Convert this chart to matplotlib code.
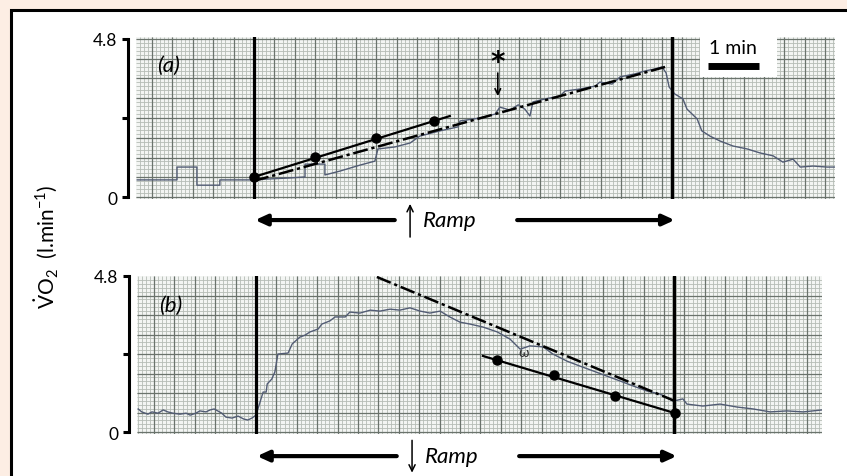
import matplotlib
matplotlib.use("Agg")
import matplotlib.pyplot as plt
import numpy as np
from matplotlib.patches import Rectangle

plt.rcParams["font.family"] = ["Lato", "DejaVu Sans"]
plt.rcParams["mathtext.fontset"] = "custom"
plt.rcParams["mathtext.rm"] = "Lato"

W, H = 847, 477

# ---- panel (a): ramp up -------------------------------------------------
# time in min (0 = ramp start), VO2 in l/min
t_a = [-2.29, -1.51, -1.51, -1.12, -1.12, -0.67, -0.67, 0.0,
       0.31, 0.71, 1.00, 1.00, 1.39, 1.39, 1.69, 2.08, 2.37, 2.43, 2.76,
       3.06, 3.25, 3.65, 4.00, 4.04, 4.43, 4.73, 4.82, 5.02, 5.18, 5.31,
       5.41, 5.47, 5.71, 6.00, 6.10, 6.39, 6.69, 6.78, 7.02, 7.18, 7.47,
       7.67, 7.86, 8.00, 8.08, 8.14, 8.20,
       8.25, 8.41, 8.49, 8.55, 8.69, 8.78, 8.94, 9.14, 9.39, 9.67, 9.92,
       10.18, 10.37, 10.57, 10.71, 10.96, 11.24, 11.39]
v_a = [0.52, 0.52, 0.91, 0.91, 0.36, 0.36, 0.52, 0.52,
       0.55, 0.58, 0.61, 1.00, 1.00, 0.67, 0.79, 0.97, 1.09, 1.46, 1.52,
       1.64, 1.85, 2.01, 2.13, 2.31, 2.40, 2.52, 2.73, 2.64, 2.80, 2.67,
       2.46, 2.89, 2.98, 3.07, 3.22, 3.28, 3.37, 3.49, 3.43, 3.65, 3.74,
       3.83, 3.89, 3.95, 3.77, 3.34, 3.22,
       3.13, 2.98, 2.67, 2.58, 2.37, 2.01, 1.85, 1.70, 1.55, 1.46, 1.34,
       1.25, 1.06, 1.15, 0.91, 0.94, 0.91, 0.91]
fit_a_t = [0.0, 8.06]
fit_a_v = [0.49, 3.95]
pts_a_t = [0.0, 1.20, 2.39, 3.53]
pts_a_v = [0.61, 1.22, 1.79, 2.31]
line_a_t = [0.0, 3.84]
line_a_v = [0.61, 2.46]

# ---- panel (b): ramp down -----------------------------------------------
t_b = [-2.31, -2.24, -2.12, -2.04, -1.92, -1.82, -1.73, -1.63, -1.49,
       -1.37, -1.29, -1.18, -1.10, -0.98, -0.90, -0.82, -0.75, -0.67,
       -0.59, -0.47, -0.35, -0.24, -0.16, -0.08, 0.0,
       0.14, 0.20, 0.22, 0.31, 0.37, 0.43, 0.63, 0.71, 0.86, 0.96, 1.06,
       1.22, 1.29, 1.45, 1.55, 1.75, 1.84, 2.04, 2.24, 2.43, 2.63, 2.82,
       3.02, 3.22, 3.41, 3.61, 3.80, 4.00, 4.20, 4.45, 4.73, 4.98, 5.18,
       5.37, 5.63, 5.82, 6.10, 6.35, 6.61, 6.88, 7.14, 7.39, 7.67, 7.92,
       8.18, 8.37, 8.45, 8.76, 9.10, 9.43, 9.75, 10.08, 10.41, 10.73, 11.10]
v_b = [0.71, 0.62, 0.55, 0.62, 0.58, 0.68, 0.62, 0.58, 0.55,
       0.58, 0.52, 0.58, 0.65, 0.62, 0.68, 0.71, 0.65, 0.58,
       0.46, 0.43, 0.49, 0.40, 0.37, 0.43, 0.52,
       1.23, 1.23, 1.48, 1.63, 1.85, 2.40, 2.43, 2.71, 2.92, 2.98, 3.08,
       3.17, 3.32, 3.42, 3.54, 3.54, 3.69, 3.66, 3.75, 3.72, 3.78, 3.75,
       3.82, 3.72, 3.66, 3.72, 3.54, 3.38, 3.32, 3.23, 3.08, 2.86, 2.55,
       2.65, 2.62, 2.40, 2.18, 2.03, 1.88, 1.72, 1.57, 1.42, 1.26, 1.17,
       0.95, 1.02, 0.86, 0.80, 0.86, 0.77, 0.71, 0.62, 0.65, 0.62, 0.68]
fit_b_t = [2.37, 8.22]
fit_b_v = [4.77, 0.95]
pts_b_t = [4.73, 5.84, 7.04, 8.22]
pts_b_v = [2.22, 1.75, 1.11, 0.58]
line_b_t = [4.45, 8.22]
line_b_v = [2.34, 0.58]

ramp_edges = [0.0, 8.2]

TRACE = "#525c74"
PAPER = "#f3f5f3"
MINOR = "#b5bcb6"
MAJOR = "#6a736c"
DASH = (0, (6, 1.5, 1.3, 1.5))


def paper(ax, xlim, ylim):
    ax.set_xlim(*xlim)
    ax.set_ylim(*ylim)
    ax.set_facecolor(PAPER)
    xs = np.arange(np.ceil(xlim[0] / 0.08) * 0.08, xlim[1], 0.08)
    ys = np.arange(0, ylim[1], 0.12)
    ax.vlines(xs, *ylim, color=MINOR, lw=0.6, zorder=0.3)
    ax.hlines(ys, *xlim, color=MINOR, lw=0.6, zorder=0.3)
    xm = np.arange(np.ceil(xlim[0] / 0.4) * 0.4, xlim[1], 0.4)
    ym = np.arange(0, ylim[1], 0.6)
    ax.vlines(xm, *ylim, color=MAJOR, lw=0.9, zorder=0.4)
    ax.hlines(ym, *xlim, color=MAJOR, lw=0.9, zorder=0.4)
    for s in ("top", "right", "bottom"):
        ax.spines[s].set_visible(False)
    sp = ax.spines["left"]
    sp.set_position(("outward", 6))
    sp.set_bounds(0, 4.8)
    sp.set_linewidth(2.2)
    ax.set_xticks([])
    ax.set_yticks([0, 2.4, 4.8])
    ax.set_yticklabels(["0", "", "4.8"])
    ax.tick_params(axis="y", length=4.5, width=2.2, pad=3, labelsize=12.5)
    for x in ramp_edges:
        ax.axvline(x, color="black", lw=2.3, zorder=4)


def ramp_arrows(ax, y, up):
    tr = ax.get_xaxis_transform()
    kw = dict(xycoords=tr, annotation_clip=False,
              arrowprops=dict(arrowstyle="-|>,head_length=0.7,head_width=0.32",
                              lw=3, color="black", shrinkA=0, shrinkB=0))
    ax.annotate("", xy=(0.02, y), xytext=(2.76, y), **kw)
    ax.annotate("", xy=(8.25, y), xytext=(5.16, y), **kw)
    lo, hi = y - 0.105, y + 0.1
    tip, tail = (hi, lo) if up else (lo, hi)
    ax.annotate("", xy=(3.06, tip), xytext=(3.06, tail), xycoords=tr,
                annotation_clip=False,
                arrowprops=dict(arrowstyle="->,head_length=0.45,head_width=0.22",
                                lw=1.1, color="black", shrinkA=0, shrinkB=0))
    ax.text(3.32, y, "Ramp", transform=tr, ha="left",
            va="center", fontsize=16, style="italic")


fig = plt.figure(figsize=(W / 100, H / 100), dpi=100)
fig.patch.set_facecolor("#fdeee4")
fig.patches.append(Rectangle((10.5 / W, -0.1), 1.2, 1.1 - 10.5 / H,
                             transform=fig.transFigure, facecolor="white",
                             edgecolor="black", lw=2.2, zorder=-1))

ax_a = fig.add_axes([136 / W, 1 - 200 / H, (835 - 136) / W, (200 - 38) / H])
ax_b = fig.add_axes([137 / W, 1 - 435 / H, (822 - 137) / W, (435 - 277) / H])

paper(ax_a, (-2.314, 11.392), (-0.06, 4.86))
paper(ax_b, (-2.333, 11.098), (-0.06, 4.8))

# panel a content
ax_a.plot(t_a, v_a, color=TRACE, lw=1.0, zorder=2)
ax_a.plot(fit_a_t, fit_a_v, color="black", lw=1.8, ls=DASH, zorder=3)
ax_a.plot(line_a_t, line_a_v, color="black", lw=1.6, zorder=3)
ax_a.plot(pts_a_t, pts_a_v, "o", color="black", ms=6.5, zorder=5)
ax_a.annotate("", xy=(4.78, 2.98), xytext=(4.78, 3.85),
              arrowprops=dict(arrowstyle="->", lw=1.2, color="black"))
ax_a.text(4.78, 4.1, "*", ha="center", va="center", fontsize=20,
          family="DejaVu Sans", fontweight="bold")
ax_a.text(-1.9, 4.0, "(a)", ha="left", va="center", fontsize=16, style="italic")
ax_a.add_patch(Rectangle((8.75, 3.65), 1.5, 1.3, facecolor="white", edgecolor="none", zorder=1))
ax_a.plot([8.9, 9.9], [3.98, 3.98], color="black", lw=5, solid_capstyle="butt", zorder=3)
ax_a.text(9.4, 4.55, "1 min", ha="center", va="center", fontsize=14)
ramp_arrows(ax_a, -0.13, True)

# panel b content
ax_b.plot(t_b, v_b, color=TRACE, lw=1.0, zorder=2)
ax_b.plot(fit_b_t, fit_b_v, color="black", lw=1.8, ls=DASH, zorder=3)
ax_b.plot(line_b_t, line_b_v, color="black", lw=1.6, zorder=3)
ax_b.plot(pts_b_t, pts_b_v, "o", color="black", ms=6.5, zorder=5)
ax_b.text(5.25, 2.45, "\u03c9", ha="center", va="center", fontsize=10, color="#333333")
ax_b.text(-1.9, 3.9, "(b)", ha="left", va="center", fontsize=16, style="italic")
ramp_arrows(ax_b, -0.14, False)

fig.text(46 / W, 1 - 247 / H, r"$\dot{\mathrm{V}}\mathrm{O}_2$  (l.min$^{-1}$)",
         rotation=90, ha="center", va="center", fontsize=15)

fig.savefig("out.png", dpi=100, facecolor=fig.get_facecolor())
